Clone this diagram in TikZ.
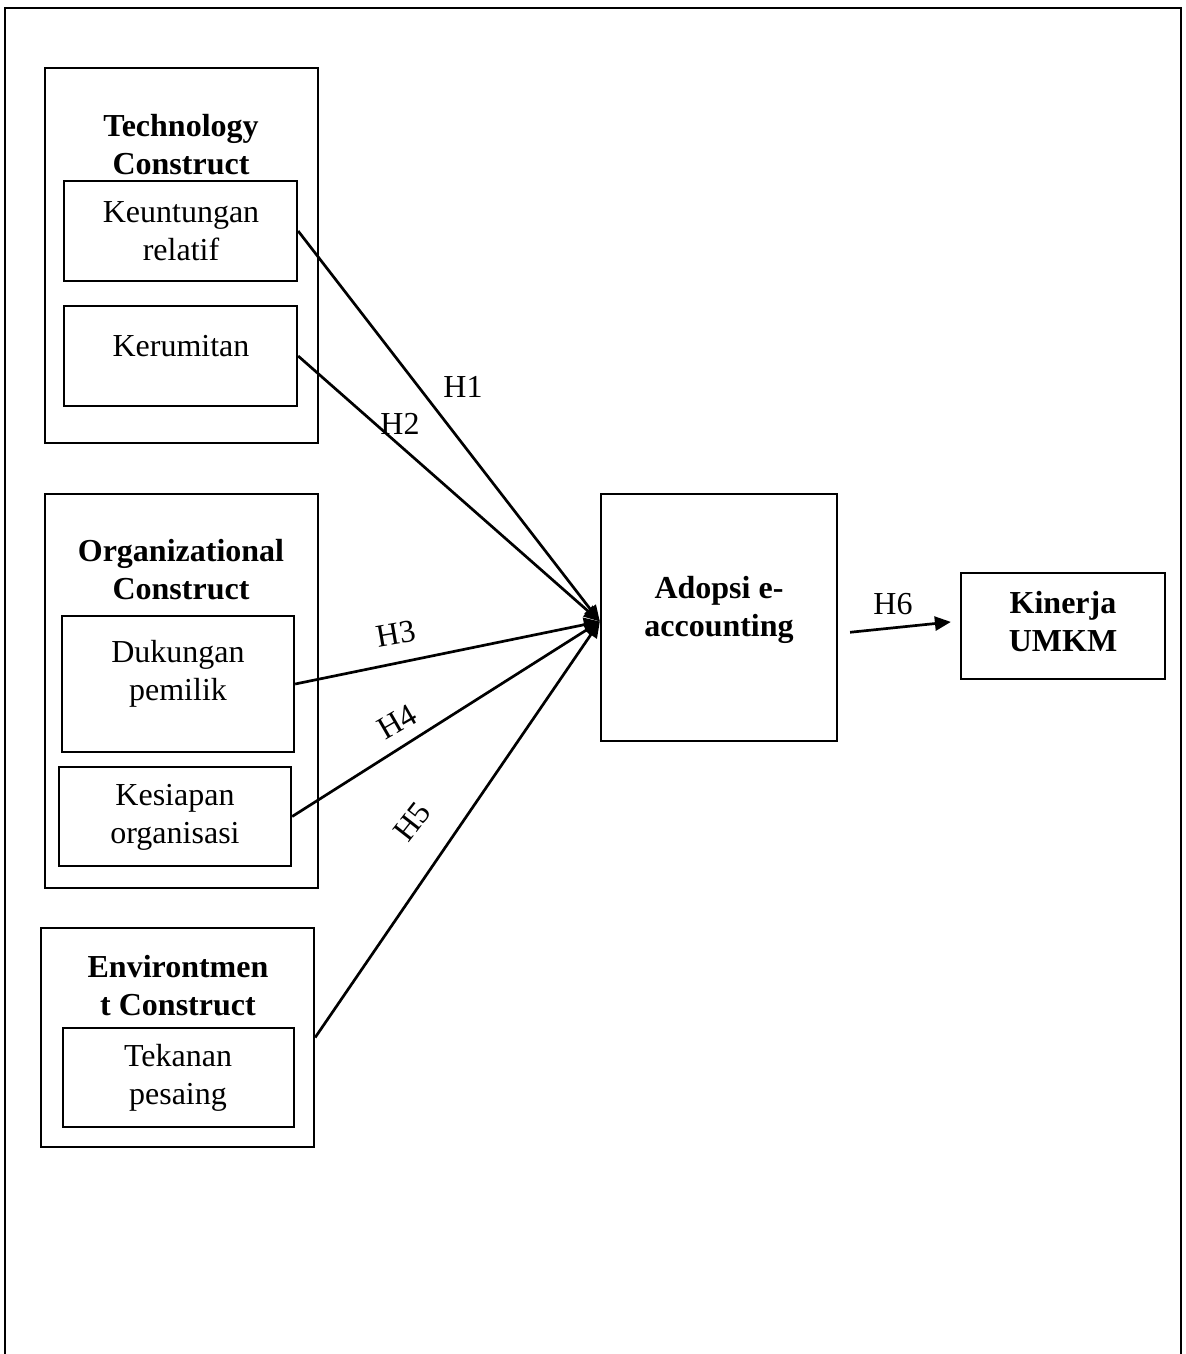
\documentclass[tikz,border=0pt]{standalone}
\usepackage{fontspec}
\setmainfont{Liberation Serif}
\usetikzlibrary{arrows.meta}
\begin{document}
\begin{tikzpicture}[x=0.5pt,y=-0.5pt,
  box/.style={draw,line width=1.15pt,inner sep=0pt},
  txt/.style={align=center,inner sep=0pt,font=\fontsize{16}{19}\selectfont},
  btxt/.style={txt,font=\fontsize{16}{19}\selectfont\bfseries},
  arr/.style={line width=1.35pt,-{Triangle[length=8pt,width=7pt]}},
  hlab/.style={inner sep=0pt,font=\fontsize{16}{19}\selectfont}]
\useasboundingbox (0,0) rectangle (1186,1354);
% outer frame (open at the bottom)
\draw[line width=1.1pt] (5,1354) -- (5,8) -- (1181,8) -- (1181,1354);

% Technology construct
\node[box,minimum width=136.5pt,minimum height=187.5pt] (tech) at (181.5,255.5) {};
\node[btxt] (techt) at (181,145) {Technology\\Construct};
\node[box,minimum width=116.5pt,minimum height=50pt] (k1) at (180.5,231) {};
\node[txt] (k1t) at (181,231) {Keuntungan\\relatif};
\node[box,minimum width=116.5pt,minimum height=50pt] (k2) at (180.5,356) {};
\node[txt] (k2t) at (181,346) {Kerumitan};

% Organizational construct
\node[box,minimum width=136.5pt,minimum height=197pt] (org) at (181.5,691) {};
\node[btxt] (orgt) at (181,570) {Organizational\\Construct};
\node[box,minimum width=116pt,minimum height=68pt] (d1) at (178,684) {};
\node[txt] (d1t) at (178,674) {Dukungan\\pemilik};
\node[box,minimum width=116pt,minimum height=49.5pt] (d2) at (175,816.5) {};
\node[txt] (d2t) at (175,817) {Kesiapan\\organisasi};

% Environment construct
\node[box,minimum width=136.5pt,minimum height=109.5pt] (env) at (177.5,1037.5) {};
\node[btxt] (envt) at (178,986) {Environtmen\\t Construct};
\node[box,minimum width=115.5pt,minimum height=49.5pt] (e1) at (178.5,1077.5) {};
\node[txt] (e1t) at (178,1078) {Tekanan\\pesaing};

% Adopsi e-accounting
\node[box,minimum width=118pt,minimum height=123.5pt] (adopt) at (719,617.5) {};
\node[btxt] (adoptt) at (719,610) {Adopsi e-\\accounting};

% Kinerja UMKM
\node[box,minimum width=102pt,minimum height=53pt] (kin) at (1063,626) {};
\node[btxt] (kint) at (1063,622) {Kinerja\\UMKM};

% connectors
\coordinate (hub) at ([yshift=-2pt]adopt.west);
\draw[arr] (k1.east) -- (hub);
\draw[arr] (k2.east) -- (hub);
\draw[arr] (d1.east) -- (hub);
\draw[arr] (d2.east) -- (hub);
\draw[arr] (env.east) -- (hub);
\draw[arr,shorten <=6pt,shorten >=4.5pt] ([yshift=-8pt]adopt.east) -- ([yshift=2.5pt]kin.west);

% labels
\node[hlab] (h1) at (463,387) {H1};
\node[hlab] (h2) at (400,424) {H2};
\node[hlab,rotate=10] (h3) at (396,634) {H3};
\node[hlab,rotate=30] (h4) at (397,722) {H4};
\node[hlab,rotate=52] (h5) at (412,822) {H5};
\node[hlab] (h6) at (893,604) {H6};
\end{tikzpicture}
\end{document}
